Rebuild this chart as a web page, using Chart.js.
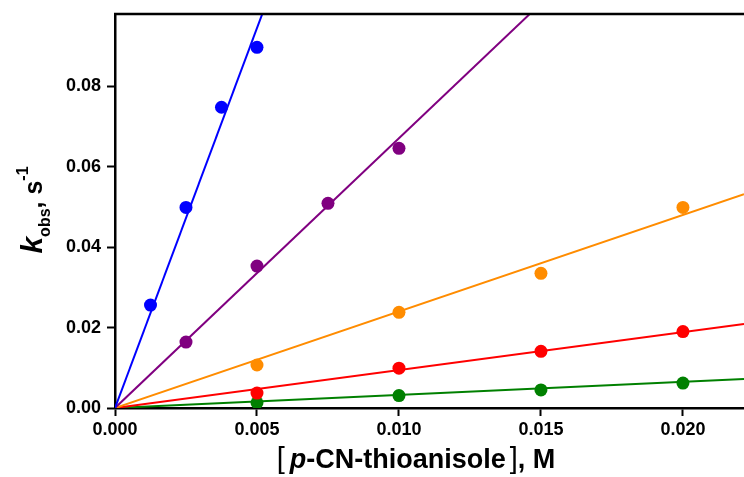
<!DOCTYPE html>
<html>
<head>
<meta charset="utf-8">
<script src="https://cdn.jsdelivr.net/npm/chart.js"></script>
<style>
  html, body { margin: 0; padding: 0; background: #fff; }
  #wrap { width: 744px; height: 477px; }
</style>
</head>
<body>
<div id="wrap"><canvas id="kobsChart" width="744" height="477"></canvas></div>
<script>
// [p-CN-thioanisole] (M) and k_obs (s^-1) for each run
const xBlue = [0.00125, 0.0025, 0.00375, 0.005];
const yBlue = [0.0256, 0.0499, 0.0748, 0.0897];
const xPurple = [0.0025, 0.005, 0.0075, 0.010];
const yPurple = [0.0164, 0.0353, 0.0509, 0.0646];
const xConc = [0.005, 0.010, 0.015, 0.020];
const yOrange = [0.0107, 0.0238, 0.0335, 0.0499];
const yRed = [0.0037, 0.0099, 0.0141, 0.0190];
const yGreen = [0.0013, 0.0031, 0.0045, 0.0062];

// slopes of the linear fits through the origin (M^-1 s^-1)
const fitSlopes = [18.9, 6.71, 2.40, 0.943, 0.325];
const seriesColors = ['#0000ff', '#800080', '#ff8c00', '#ff0000', '#008000'];

const xTicks = [0, 0.005, 0.010, 0.015, 0.020];
const yTicks = [0, 0.02, 0.04, 0.06, 0.08];
const xMax = 0.02215;
const yMax = 0.098;

const runs = [
  [xBlue, yBlue],
  [xPurple, yPurple],
  [xConc, yOrange],
  [xConc, yRed],
  [xConc, yGreen]
];

const datasets = [];
runs.forEach(([xs, ys], i) => {
  datasets.push({
    type: 'scatter',
    data: xs.map((x, j) => ({ x: x, y: ys[j] })),
    backgroundColor: seriesColors[i],
    borderWidth: 0,
    pointRadius: 6.5,
    order: 1
  });
  datasets.push({
    type: 'line',
    data: [{ x: 0, y: 0 }, { x: xMax, y: fitSlopes[i] * xMax }],
    borderColor: seriesColors[i],
    borderWidth: 2,
    pointRadius: 0,
    fill: false,
    order: 2
  });
});

// draws a row of text pieces (sub/superscripts etc.) centred on cx
function drawRuns(c, pieces, cx, cy) {
  let total = 0;
  pieces.forEach(p => {
    c.font = p.font;
    p.w = c.measureText(p.text).width;
    total += p.w + (p.gap || 0);
  });
  let x = cx - total / 2;
  pieces.forEach(p => {
    c.font = p.font;
    c.fillText(p.text, x, cy + (p.dy || 0));
    x += p.w + (p.gap || 0);
  });
}

const frameAndTitles = {
  id: 'frameAndTitles',
  afterDraw(chart) {
    const c = chart.ctx;
    const a = chart.chartArea;
    c.save();
    // top frame line
    c.strokeStyle = '#000';
    c.lineWidth = 2.5;
    c.beginPath();
    c.moveTo(a.left - 1, a.top);
    c.lineTo(a.right, a.top);
    c.stroke();

    c.fillStyle = '#000';
    c.textBaseline = 'alphabetic';
    const f = 'Liberation Sans, Arial, sans-serif';

    // x axis title
    drawRuns(c, [
      { text: '[', font: '29px ' + f, gap: 5 },
      { text: 'p', font: 'italic bold 27px ' + f },
      { text: '-CN-thioanisole', font: 'bold 27px ' + f, gap: 4 },
      { text: ']', font: '29px ' + f },
      { text: ', M', font: 'bold 27px ' + f }
    ], 416, 468);

    // y axis title
    c.translate(42, 210);
    c.rotate(-Math.PI / 2);
    drawRuns(c, [
      { text: 'k', font: 'italic bold 30px ' + f },
      { text: 'obs', font: 'bold 16px ' + f, dy: 8 },
      { text: ', s', font: 'bold 25px ' + f },
      { text: '-1', font: 'bold 16px ' + f, dy: -14 }
    ], 0, 0);
    c.restore();
  }
};

const tickFont = { family: 'Liberation Sans, Arial, sans-serif', size: 18, weight: 'bold' };

new Chart(document.getElementById('kobsChart'), {
  type: 'scatter',
  data: { datasets: datasets },
  plugins: [frameAndTitles],
  options: {
    responsive: false,
    animation: false,
    layout: { autoPadding: false, padding: { top: 14, left: 0, right: 0, bottom: 0 } },
    plugins: {
      legend: { display: false },
      tooltip: { enabled: false }
    },
    scales: {
      x: {
        type: 'linear',
        min: 0,
        max: xMax,
        afterBuildTicks: s => { s.ticks = xTicks.map(v => ({ value: v })); },
        afterFit: s => { s.height = 69; s.paddingLeft = 0; s.paddingRight = 0; },
        grid: { drawOnChartArea: false, drawTicks: true, tickLength: 8, tickWidth: 2, tickColor: '#000' },
        border: { display: true, color: '#000', width: 2.5 },
        ticks: { color: '#000', font: tickFont, padding: 3, maxRotation: 0, callback: v => v.toFixed(3) }
      },
      y: {
        type: 'linear',
        min: 0,
        max: yMax,
        afterBuildTicks: s => { s.ticks = yTicks.map(v => ({ value: v })); },
        afterFit: s => { s.width = 115; s.paddingTop = 0; s.paddingBottom = 0; },
        grid: { drawOnChartArea: false, drawTicks: true, tickLength: 8, tickWidth: 2, tickColor: '#000' },
        border: { display: true, color: '#000', width: 2.5 },
        ticks: { color: '#000', font: tickFont, padding: 6, callback: v => v.toFixed(2) }
      }
    }
  }
});
</script>
</body>
</html>
